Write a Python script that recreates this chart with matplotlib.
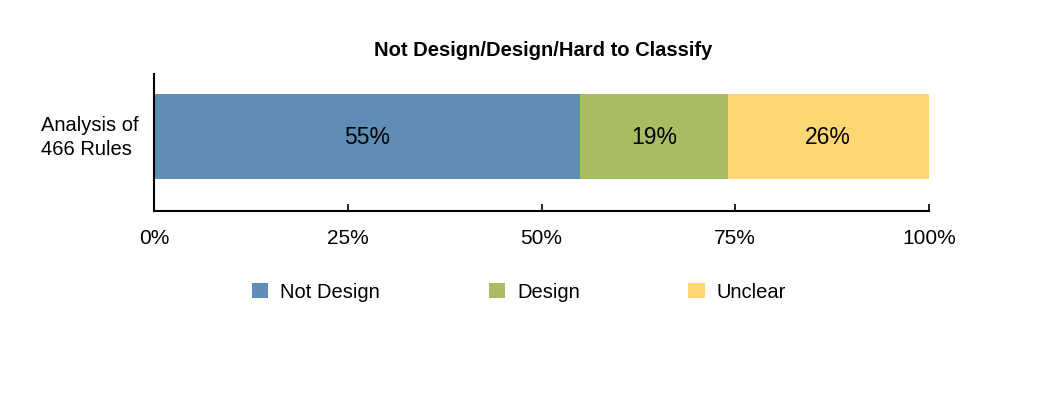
import matplotlib
matplotlib.use("Agg")
import matplotlib.pyplot as plt
from matplotlib.patches import Patch
from matplotlib.ticker import FuncFormatter
from matplotlib.transforms import blended_transform_factory

category = "Analysis of\n466 Rules"
series = ["Not Design", "Design", "Unclear"]
values = [55, 19, 26]
colors = ["#5F8DB6", "#A8BC62", "#FDD872"]
title = "Not Design/Design/Hard to Classify"

plt.rcParams['font.family'] = ['Liberation Sans', 'DejaVu Sans']

fig = plt.figure(figsize=(10.64, 4.10), dpi=100)
ax = fig.add_axes([154/1064, 1-212/410, (929-154)/1064, (212-75)/410])

left = 0
for name, v, c in zip(series, values, colors):
    ax.barh([0], [v], left=left, height=0.62, color=c, label=name)
    ax.text(left + v/2, 0, f"{v}%", ha="center", va="center", fontsize=16.5)
    left += v

ax.set_xlim(0, 100)
ax.set_ylim(-0.544, 0.456)
ax.set_yticks([])
tr = blended_transform_factory(fig.transFigure, ax.transData)
ax.text(41/1064, 0, category, transform=tr, ha="left", va="center", fontsize=14.5,
        linespacing=1.3)
ax.set_xticks([0, 25, 50, 75, 100])
ax.xaxis.set_major_formatter(FuncFormatter(lambda x, p: f"{int(x)}%"))
ax.tick_params(axis='x', direction='in', length=5, labelsize=15, pad=12, width=1.2)
for s in ["top", "right"]:
    ax.spines[s].set_visible(False)
for s in ["left", "bottom"]:
    ax.spines[s].set_linewidth(1.5)

fig.text((373+713)/2/1064, 1-50/410, title, ha="center", va="center", fontsize=14.5, fontweight="bold")

handles = [Patch(facecolor=c, label=n) for n, c in zip(series, colors)]
fig.legend(handles=handles, loc="center left", bbox_to_anchor=(252/1064, 1-293/410), ncol=3,
           frameon=False, fontsize=14.5, columnspacing=5.4, handlelength=0.8, handleheight=0.8,
           handletextpad=0.6, borderpad=0, borderaxespad=0)

fig.savefig("out.png", dpi=100)
